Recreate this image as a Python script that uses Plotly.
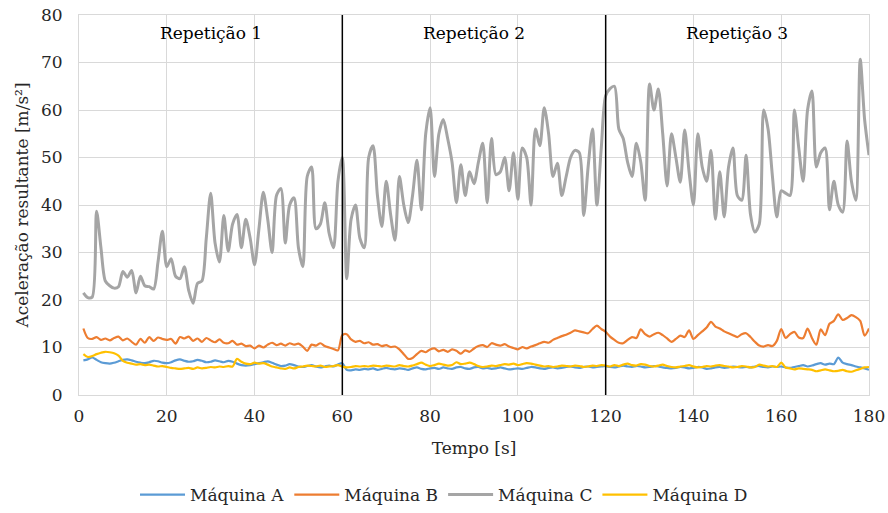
import plotly.graph_objects as go

# Time axis: one sample per second over three 60 s repetitions
tempo = list(range(1, 181))

maquina_a = [
    7.3, 7.5, 7.9, 7.4, 6.9, 6.7, 6.6, 6.8, 7.1, 7.4, 7.5, 7.3, 7.0, 6.8, 6.7, 6.9, 7.2, 7.1, 6.8, 6.7,
    6.9, 7.3, 7.5, 7.2, 7.0, 7.1, 7.4, 7.2, 6.9, 7.0, 7.3, 7.1, 6.9, 7.2, 7.0, 6.6, 6.3, 6.2, 6.3, 6.5,
    6.7, 6.9, 7.1, 6.8, 6.4, 6.1, 6.2, 6.5, 6.3, 6.0, 5.9, 6.1, 6.3, 6.0, 5.8, 6.0, 6.2, 6.0, 6.4, 6.7,
    5.3, 5.2, 5.4, 5.3, 5.5, 5.4, 5.6, 5.3, 5.5, 5.7, 5.5, 5.4, 5.6, 5.5, 5.3, 5.6, 5.8, 5.5, 5.4, 5.6,
    5.7, 5.5, 5.8, 5.6, 5.5, 5.8, 5.9, 5.6, 5.5, 5.8, 5.9, 5.6, 5.7, 5.5, 5.6, 5.8, 5.6, 5.4, 5.5, 5.6,
    5.5, 5.7, 5.9, 5.8, 5.6, 5.5, 5.7, 5.8, 5.6, 5.7, 5.9, 6.0, 5.8, 5.7, 5.9, 6.0, 5.8, 5.9, 6.0, 6.1,
    5.9, 5.8, 6.0, 6.2, 6.0, 5.9, 6.1, 6.0, 5.8, 5.9, 6.1, 6.0, 5.8, 5.7, 5.6, 5.7, 5.9, 5.8, 5.6, 5.7,
    5.9, 5.8, 5.5, 5.6, 5.8, 5.9, 5.7, 5.8, 6.0, 5.9, 5.8, 5.9, 5.8, 6.0, 6.1, 5.9, 5.8, 6.0, 5.9, 6.0,
    5.8, 5.7, 5.9, 6.1, 6.3, 6.0, 6.2, 6.5, 6.7, 6.4, 6.6, 6.5, 7.9, 6.8, 6.5, 6.3, 6.0, 5.8, 5.6, 5.3,
]

maquina_b = [
    14.0, 12.0, 11.8, 12.2, 11.6, 11.9, 11.5, 12.0, 12.3, 11.5, 11.9, 11.2, 10.6, 11.8, 11.0, 12.2, 11.4, 12.1, 11.8, 11.6,
    11.8, 10.8, 12.2, 11.9, 12.3, 11.4, 11.9, 11.2, 12.0, 11.5, 11.1, 11.7, 11.0, 10.9, 11.4, 10.6, 10.8, 10.3, 10.4, 9.8,
    10.4, 10.0, 10.6, 11.0, 10.5, 10.8, 10.4, 10.9, 10.6, 10.8, 10.2, 9.3, 10.6, 10.4, 10.9, 10.3, 10.0, 9.7, 9.4, 12.6,
    12.8, 11.7, 11.2, 11.4, 10.9, 11.1, 10.6, 10.7, 10.3, 10.5, 10.1, 10.2, 9.6, 8.6, 7.6, 7.8, 8.6, 9.3, 9.0, 9.6,
    9.8, 9.2, 9.5, 9.1, 9.6, 9.3, 8.7, 9.4, 9.1, 9.8, 10.3, 10.5, 10.1, 10.9, 10.6, 10.4, 10.7, 10.2, 9.9, 9.6,
    10.1, 9.8, 10.2, 10.5, 10.9, 11.2, 11.0, 11.6, 12.0, 12.4, 12.7, 13.1, 13.6, 13.4, 13.2, 13.0, 13.9, 14.6, 13.9, 13.3,
    12.3, 11.6, 11.0, 10.9, 11.6, 12.2, 12.0, 13.8, 12.8, 12.3, 12.8, 13.1, 12.6, 11.9, 11.2, 11.8, 12.5, 12.2, 13.6, 11.8,
    12.6, 13.4, 14.2, 15.4, 14.4, 14.0, 13.4, 13.0, 12.6, 12.2, 12.8, 13.0, 12.2, 11.2, 10.4, 10.2, 10.5, 10.3, 11.4, 13.9,
    12.0, 12.8, 13.3, 12.1, 12.0, 14.0, 12.0, 10.6, 13.8, 12.6, 15.0, 15.6, 17.0, 15.8, 16.2, 16.8, 16.4, 15.6, 12.5, 14.0,
]

maquina_c = [
    21.5, 20.5, 20.6, 38.7, 31.0, 24.0, 23.0, 22.5, 22.8, 26.0, 24.8, 26.2, 21.5, 25.0, 23.0, 22.8, 22.3, 28.0, 34.5, 27.0,
    28.7, 25.0, 24.5, 27.0, 22.0, 19.3, 23.5, 24.0, 33.0, 42.5, 32.0, 28.0, 37.8, 30.3, 36.0, 38.0, 31.0, 37.0, 33.0, 27.4,
    35.0, 42.7, 37.0, 30.0, 42.0, 43.5, 32.0, 40.0, 41.5, 31.0, 27.0, 46.0, 48.0, 35.0, 36.0, 40.5, 34.0, 31.0, 45.0, 50.0,
    24.5, 37.0, 40.0, 33.0, 31.0, 50.0, 52.5, 42.0, 35.5, 45.0, 38.0, 32.6, 46.0, 40.0, 36.3, 42.0, 49.4, 39.0, 55.0, 60.5,
    46.0, 55.0, 58.0, 54.0, 49.0, 40.5, 48.5, 42.0, 47.0, 44.5, 49.0, 53.0, 40.5, 54.0, 46.4, 47.0, 50.0, 43.0, 51.0, 41.2,
    52.0, 50.0, 40.0, 56.0, 52.5, 60.5, 55.0, 46.0, 48.8, 42.0, 46.0, 50.0, 51.5, 51.0, 37.8, 48.0, 56.0, 40.0, 52.0, 63.0,
    64.5, 65.0, 56.0, 54.0, 49.0, 46.0, 53.0, 49.0, 41.0, 65.5, 60.0, 64.4, 55.0, 44.0, 55.0, 50.0, 44.8, 55.8, 47.0, 40.0,
    55.0, 48.0, 45.0, 51.5, 37.0, 47.0, 37.5, 48.0, 52.0, 42.0, 41.0, 50.5, 38.0, 34.3, 36.0, 60.0, 56.0, 46.0, 37.5, 43.0,
    42.5, 42.0, 60.0, 52.0, 45.0, 60.0, 64.0, 48.0, 51.0, 52.0, 39.0, 45.0, 40.0, 38.5, 53.5, 45.0, 41.0, 70.7, 58.0, 50.5,
]

maquina_d = [
    8.6, 8.0, 8.2, 8.6, 8.9, 9.1, 9.0, 8.8, 8.3, 7.2, 6.8, 6.6, 6.4, 6.5, 6.3, 6.4, 6.2, 6.0, 6.1, 5.9,
    5.7, 5.6, 5.5, 5.6, 5.7, 5.5, 5.8, 5.6, 5.7, 5.9, 5.8, 6.0, 5.9, 6.1, 6.0, 7.6, 7.0, 6.6, 6.5, 6.8,
    6.6, 6.7, 6.4, 6.0, 5.8, 5.6, 5.5, 5.8, 5.6, 5.9, 6.0, 6.2, 6.1, 6.0, 6.2, 5.9, 6.0, 6.1, 6.3, 6.0,
    5.8, 5.9, 6.1, 6.0, 6.1, 6.0, 6.2, 6.1, 6.0, 6.2, 6.1, 6.0, 6.3, 6.1, 6.0, 6.2, 6.5, 6.8, 6.4, 6.1,
    6.3, 6.6, 6.4, 6.2, 6.3, 6.9, 6.5, 6.6, 6.8, 6.5, 6.1, 5.9, 6.0, 6.2, 6.1, 6.3, 6.5, 6.4, 6.6, 6.3,
    6.5, 6.7, 6.6, 6.4, 6.2, 6.0, 6.1, 5.9, 6.0, 6.2, 6.1, 6.0, 6.2, 6.1, 5.9, 6.0, 6.2, 6.1, 6.3, 6.2,
    6.0, 6.3, 6.1, 6.4, 6.6, 6.3, 6.2, 6.5, 6.4, 6.1, 6.0, 6.2, 6.4, 6.1, 5.9, 5.8, 6.0, 6.1, 6.3, 6.0,
    5.8, 5.9, 6.1, 6.0, 6.2, 6.3, 6.1, 6.0, 5.8, 5.9, 6.1, 6.0, 5.8, 5.9, 6.4, 6.2, 6.0, 6.1, 5.9, 6.8,
    5.8, 5.6, 5.4, 5.6, 5.5, 5.4, 5.3, 5.0, 5.2, 5.4, 5.2, 5.0, 5.1, 5.3, 5.0, 4.9, 5.2, 5.5, 5.8, 5.9,
]

# Repetition boundaries and labels
limites = [60, 120]
repeticoes = ["Repetição 1", "Repetição 2", "Repetição 3"]
centros = [30, 90, 150]

x_ticks = [0, 20, 40, 60, 80, 100, 120, 140, 160, 180]
y_ticks = [0, 10, 20, 30, 40, 50, 60, 70, 80]

FONT = "DejaVu Serif"
FS = 17
TXT = "#262626"
series = [
    ("Máquina A", maquina_a, "#5B9BD5", 2.2),
    ("Máquina B", maquina_b, "#ED7D31", 2.2),
    ("Máquina C", maquina_c, "#A5A5A5", 3.0),
    ("Máquina D", maquina_d, "#FFC000", 2.2),
]

fig = go.Figure()
for rank, (nome, valores, cor, largura) in enumerate(series):
    fig.add_trace(go.Scatter(
        x=tempo, y=valores, name=nome, mode="lines",
        line=dict(color=cor, width=largura, shape="spline", smoothing=0.8),
        legendrank=rank + 1,
    ))

for lim in limites:
    fig.add_shape(type="line", xref="x", yref="paper", x0=lim, x1=lim, y0=0, y1=1,
                  line=dict(color="black", width=1.5))

for txt, cx in zip(repeticoes, centros):
    fig.add_annotation(x=cx, y=76.2, xref="x", yref="y", text=txt, showarrow=False,
                       font=dict(family=FONT, size=FS, color="black"))

grid = "#D9D9D9"
fig.update_layout(
    width=888, height=513,
    margin=dict(l=79, r=19, t=15, b=118, autoexpand=False),
    paper_bgcolor="white", plot_bgcolor="white",
    font=dict(family=FONT, size=FS, color=TXT),
    showlegend=True,
    legend=dict(orientation="h", xref="container", yref="container", x=0.5, y=0.035,
                xanchor="center", yanchor="middle", font=dict(family=FONT, size=FS, color=TXT),
                itemwidth=45, traceorder="normal"),
)
fig.update_xaxes(
    range=[0, 180], tickvals=x_ticks, showgrid=True, gridcolor=grid, gridwidth=1,
    showline=True, linecolor=grid, mirror=True, zeroline=False, ticks="", automargin=False,
    ticklabelstandoff=6, tickfont=dict(family=FONT, size=FS, color=TXT),
    title=dict(text="Tempo [s]", font=dict(family=FONT, size=FS, color=TXT), standoff=16),
)
fig.update_yaxes(
    range=[0, 80], tickvals=y_ticks, showgrid=True, gridcolor=grid, gridwidth=1,
    showline=True, linecolor=grid, mirror=True, zeroline=False, ticks="", automargin=False,
    ticklabelstandoff=12, tickfont=dict(family=FONT, size=FS, color=TXT),
    title=dict(text="Aceleração resultante [m/s²]", font=dict(family=FONT, size=FS, color=TXT), standoff=8),
)

fig.write_html("out.html")
